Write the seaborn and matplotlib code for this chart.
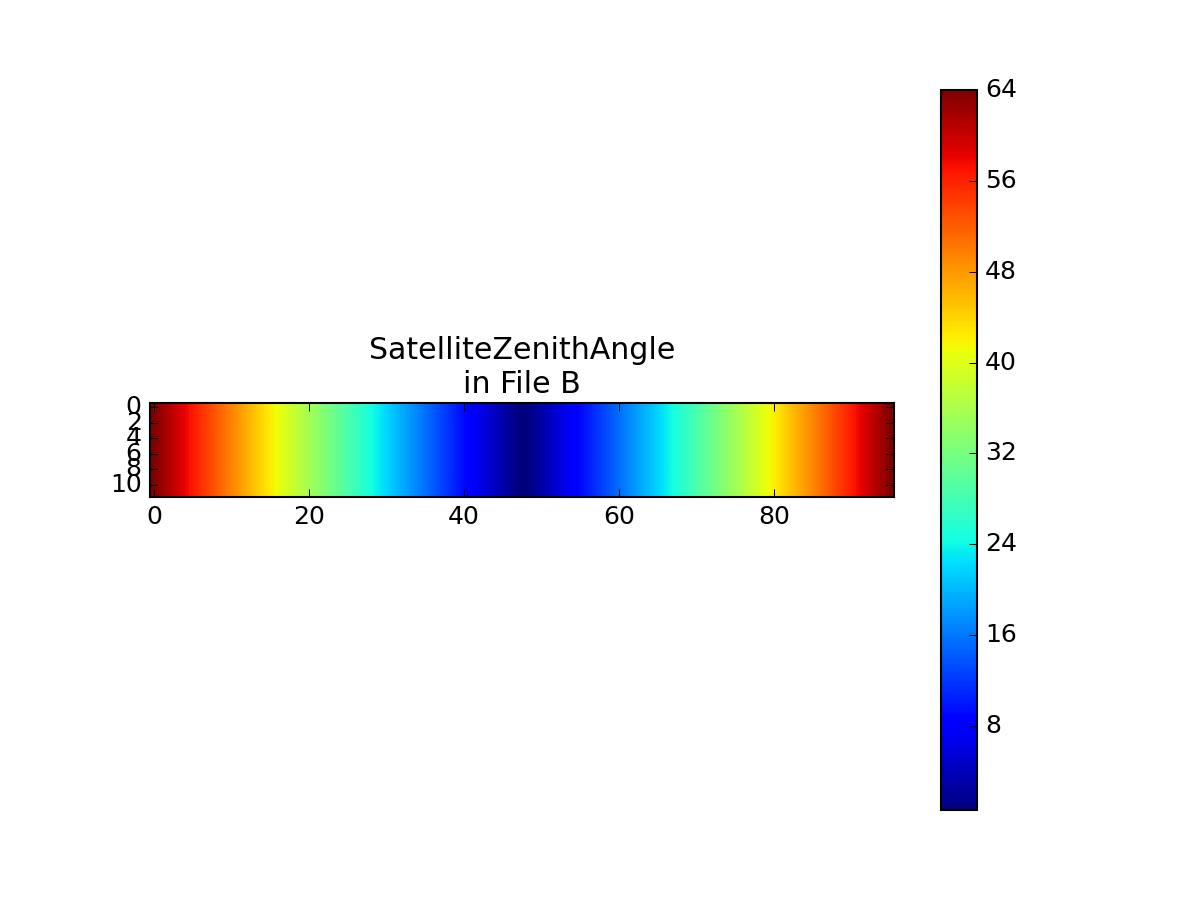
import numpy as np
import matplotlib
matplotlib.use("Agg")
import matplotlib.pyplot as plt
import seaborn as sns

# ---- data ----
zenith_row = [
    64.0, 62.5, 61.0, 59.5, 58.1, 56.6, 55.1, 53.7, 52.2, 50.8, 49.4, 47.9,
    46.5, 45.1, 43.7, 42.3, 40.9, 39.5, 38.1, 36.7, 35.3, 34.0, 32.6, 31.3,
    29.9, 28.6, 27.2, 25.9, 24.6, 23.3, 21.9, 20.6, 19.3, 18.1, 16.8, 15.5,
    14.2, 12.9, 11.7, 10.4, 9.2, 7.9, 6.7, 5.5, 4.2, 3.0, 1.8, 0.6,
    0.6, 1.8, 3.0, 4.2, 5.5, 6.7, 7.9, 9.2, 10.4, 11.7, 12.9, 14.2,
    15.5, 16.8, 18.1, 19.3, 20.6, 21.9, 23.3, 24.6, 25.9, 27.2, 28.6, 29.9,
    31.3, 32.6, 34.0, 35.3, 36.7, 38.1, 39.5, 40.9, 42.3, 43.7, 45.1, 46.5,
    47.9, 49.4, 50.8, 52.2, 53.7, 55.1, 56.6, 58.1, 59.5, 61.0, 62.5, 64.0,
]
n_rows = 12
x_tick_values = [0, 20, 40, 60, 80]
y_tick_values = [0, 2, 4, 6, 8, 10]
cbar_tick_values = [8, 16, 24, 32, 40, 48, 56, 64]
title_text = "SatelliteZenithAngle\nin File B"

data = np.tile(np.array(zenith_row), (n_rows, 1))
n_cols = data.shape[1]

plt.style.use("classic")
fig = plt.figure(figsize=(8, 6), facecolor="white")
fig.subplots_adjust(left=0.125, right=0.9, bottom=0.1, top=0.9)
ax = fig.add_subplot(111)

sns.heatmap(data, cmap="jet", square=True, ax=ax,
            xticklabels=False, yticklabels=False,
            cbar_kws={"ticks": cbar_tick_values})

# smooth (bilinear) rendering of the same data, as in the reference image
mesh = ax.collections[0]
ax.imshow(data, cmap=mesh.get_cmap(), norm=mesh.norm, interpolation="bilinear",
          extent=(0, n_cols, n_rows, 0), aspect="equal", zorder=2)
ax.set_xlim(0, n_cols)
ax.set_ylim(n_rows, 0)

ax.set_xticks([v + 0.5 for v in x_tick_values])
ax.set_xticklabels([str(v) for v in x_tick_values], rotation=0)
ax.set_yticks([v + 0.5 for v in y_tick_values])
ax.set_yticklabels([str(v) for v in y_tick_values], rotation=0, va="center")
ax.tick_params(direction="in", top=True, right=True, bottom=True, left=True,
               length=4, width=0.5, labelsize=12, pad=4)
for sp in ax.spines.values():
    sp.set_visible(True)
    sp.set_linewidth(1.0)
    sp.set_color("black")
    sp.set_zorder(3)

ax.set_title(title_text, fontsize=14.4, pad=5)

cb = mesh.colorbar
cb.outline.set_visible(True)
cb.outline.set_linewidth(1.0)
cb.outline.set_edgecolor("black")
cb.ax.tick_params(direction="in", length=4, width=0.5, labelsize=12, right=True, left=False)
cb.ax.set_yticklabels([str(v) for v in cbar_tick_values])

fig.savefig("out.png", dpi=150, facecolor="white")
